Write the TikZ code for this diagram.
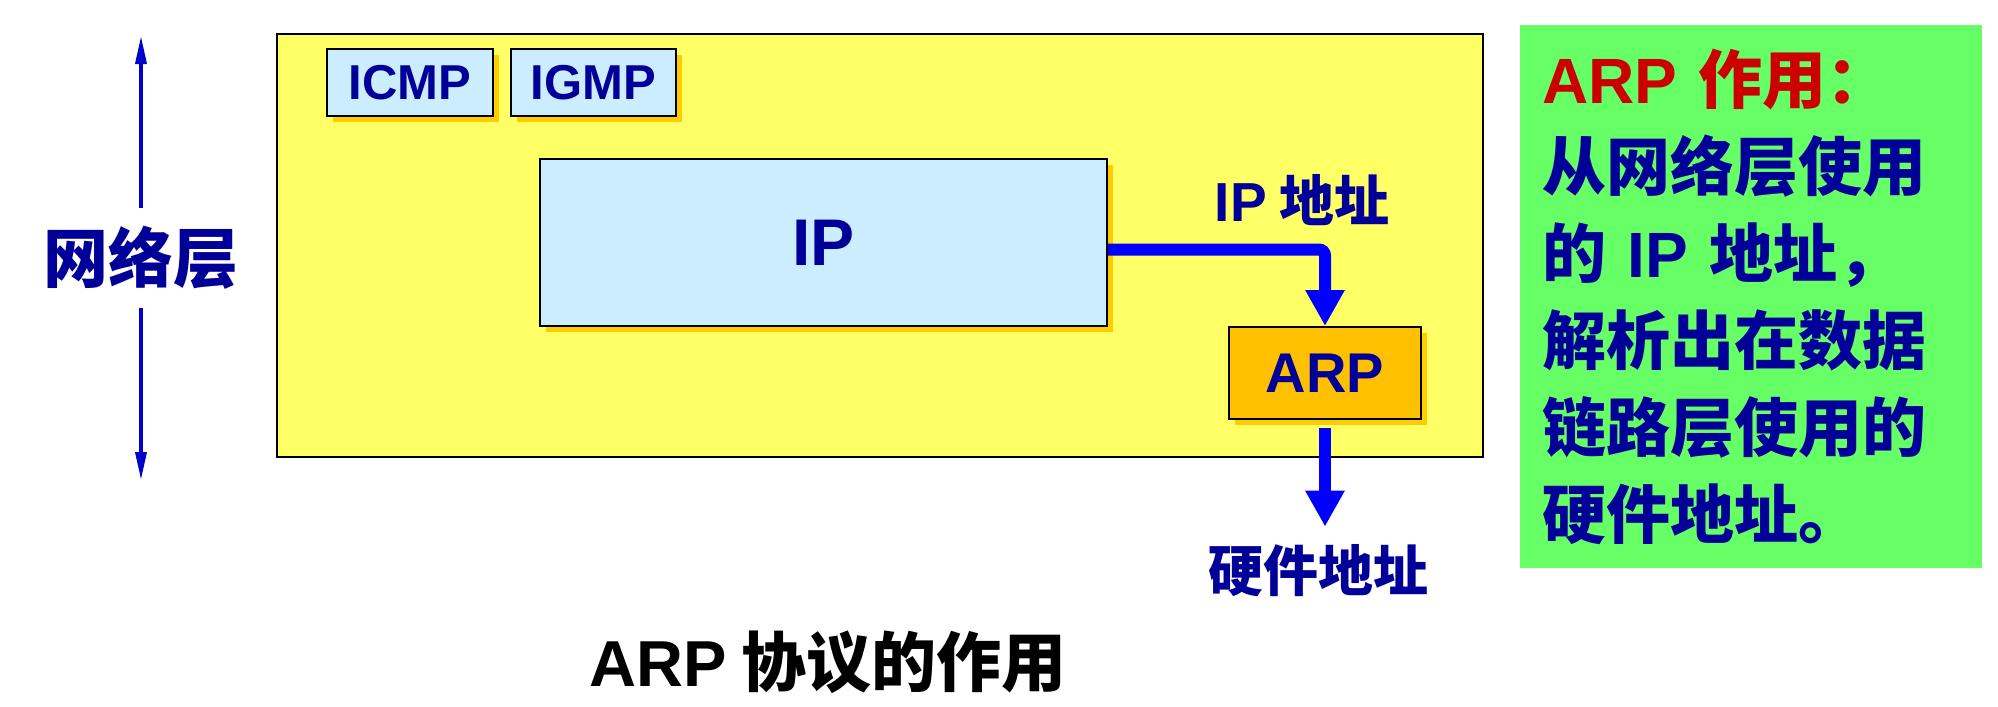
\documentclass[tikz,border=0pt]{standalone}
\usepackage{fontspec}
\setmainfont{Noto Sans CJK SC}
\newfontfamily\lat{Liberation Sans}
\usepackage{tikz}
\usetikzlibrary{arrows.meta,shadows}
\definecolor{layerc}{HTML}{FFFF66}
\definecolor{protoc}{HTML}{CCECFF}
\definecolor{arpc}{HTML}{FFC000}
\definecolor{shadc}{HTML}{FFCC00}
\definecolor{notec}{HTML}{66FF66}
\definecolor{ink}{HTML}{000099}
\definecolor{flow}{HTML}{0000FF}
\definecolor{rim}{HTML}{0000CC}
\definecolor{alert}{HTML}{CC0000}
\tikzset{
  box/.style={draw=black, line width=2pt, inner sep=0pt, text=ink, anchor=north west,
              drop shadow={fill=shadc, opacity=1, shadow xshift=6pt, shadow yshift=-6pt}},
  proto/.style={box, fill=protoc},
  flowarr/.style={-{Triangle[length=36pt, width=37pt]}, line width=12pt, draw=flow},
  spanarr/.style={-{Triangle[length=28pt, width=11pt]}, line width=3.5pt, draw=rim},
  lbl/.style={text=ink, inner sep=0pt},
}

\begin{document}
\begin{tikzpicture}[x=1pt, y=-1pt]
  \useasboundingbox (0,0) rectangle (1998,707);
  % network layer frame
  \node[draw=black, line width=2pt, fill=layerc, minimum width=1206pt, minimum height=423pt,
        anchor=north west, inner sep=0pt] (layer) at (276,33) {};
  \node[proto, minimum width=166pt, minimum height=67pt,
        font=\lat\bfseries\fontsize{49}{49}\selectfont] (icmp) at (326,48) {ICMP};
  \node[proto, minimum width=165pt, minimum height=67pt,
        font=\lat\bfseries\fontsize{49}{49}\selectfont] (igmp) at (510,48) {IGMP};
  \node[proto, minimum width=567pt, minimum height=167pt,
        font=\lat\bfseries\fontsize{66}{66}\selectfont] (ip) at (539,158) {IP};
  \node[box, fill=arpc, minimum width=192pt, minimum height=92pt,
        font=\lat\bfseries\fontsize{56}{56}\selectfont] (arp) at (1228,326) {ARP};
  % side note
  \node[fill=notec, minimum width=462pt, minimum height=543pt, anchor=north west,
        text width=418pt, align=left, inner sep=22pt, text=ink,
        font=\bfseries\fontsize{64}{87}\selectfont] (note) at (1520,25)
    {\textcolor{alert}{{\lat ARP} 作用：}\\
     从网络层使用\\
     的 {\lat IP} 地址，\\
     解析出在数据\\
     链路层使用的\\
     硬件地址。};
  % labels
  \node[lbl, inner ysep=18pt, font=\bfseries\fontsize{65}{65}\selectfont] (netlbl) at (141,258) {网络层};
  \node[lbl, font=\bfseries\fontsize{55}{55}\selectfont] (iplbl) at (1302,200) {{\lat IP} 地址};
  \node[lbl, font=\bfseries\fontsize{55}{55}\selectfont] (hwlbl) at (1318,571) {硬件地址};
  \node[text=black, inner sep=0pt, font=\bfseries\fontsize{65}{65}\selectfont] (title) at (828,662) {{\lat ARP} 协议的作用};
  % connectors
  \coordinate (nettop) at (141,36);
  \coordinate (netbot) at (141,480);
  \draw[spanarr] (netlbl) -- (nettop);
  \draw[spanarr] (netlbl) -- (netbot);
  \draw[flowarr, rounded corners=6pt] ([yshift=-7pt]ip.east) -| (arp.north);
  \draw[flowarr, shorten <=8pt, shorten >=18pt] (arp.south) -- (arp.south |- hwlbl.north);
\end{tikzpicture}
\end{document}
